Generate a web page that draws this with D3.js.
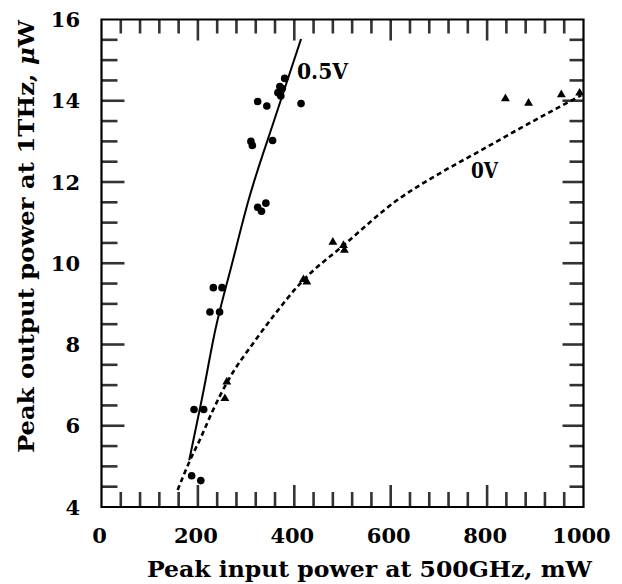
<!DOCTYPE html>
<html>
<head>
<meta charset="utf-8">
<script src="https://cdn.jsdelivr.net/npm/d3@7"></script>
<style>
  html, body { margin: 0; padding: 0; background: #fff; }
  svg { display: block; }
  text { font-family: "DejaVu Serif", serif; font-weight: bold; fill: #000; }
</style>
</head>
<body>
<script>
// ---- data ----
const xMajorTicks = [0, 200, 400, 600, 800, 1000];
const yMajorTicks = [4, 6, 8, 10, 12, 14, 16];
const xMinorTicks = [40, 80, 120, 160, 200, 240, 280, 320, 360, 400, 440, 480, 520, 560, 600, 640, 680, 720, 760, 800, 840, 880, 920, 960];
const yMinorTicks = [4.5, 5, 5.5, 6, 6.5, 7, 7.5, 8, 8.5, 9, 9.5, 10, 10.5, 11, 11.5, 12, 12.5, 13, 13.5, 14, 14.5, 15, 15.5];

// 0.5 V bias: measured points (filled circles)
const dots05X = [187, 206, 192, 212, 225, 245, 232, 250, 324, 332, 341, 310, 313, 355, 324, 343, 414, 366, 370, 375, 380, 372];
const dots05Y = [4.77, 4.65, 6.4, 6.4, 8.8, 8.8, 9.4, 9.4, 11.38, 11.28, 11.48, 13.0, 12.9, 13.02, 13.98, 13.87, 13.93, 14.2, 14.35, 14.3, 14.55, 14.12];
// 0.5 V fitted curve (solid)
const fit05X = [182, 209, 236, 270, 305, 360, 414];
const fit05Y = [5.15, 6.7, 8.35, 9.95, 11.55, 13.58, 15.52];

// 0 V bias: measured points (filled triangles)
const tri0X = [256, 260, 419, 426, 480, 502, 504, 838, 886, 954, 992];
const tri0Y = [6.67, 7.08, 9.6, 9.54, 10.52, 10.44, 10.32, 14.05, 13.94, 14.15, 14.19];
// 0 V fitted curve (dashed)
const fit0X = [158, 184, 205, 230, 263, 319, 360, 412, 506, 613, 700, 786, 870, 955, 995];
const fit0Y = [4.42, 5.16, 5.68, 6.35, 7.12, 8.1, 8.75, 9.5, 10.48, 11.55, 12.2, 12.77, 13.33, 13.88, 14.13];

const xLabel = "Peak input power at 500GHz, mW";
const yLabelA = "Peak output power at 1THz, ";
const yLabelMu = "\u03BC";
const yLabelB = "W";
const label05 = "0.5V";
const label0 = "0V";

// ---- layout ----
const W = 622, H = 584;
const PL = 101.5, PR = 583.5, PT = 19.5, PB = 507;

const svg = d3.select("body").append("svg").attr("width", W).attr("height", H)
  .attr("viewBox", `0 0 ${W} ${H}`);

const xs = d3.scaleLinear().domain([0, 1000]).range([PL, PR]);
const ys = d3.scaleLinear().domain([4, 16]).range([PB, PT]);

const MINOR = 15, MAJOR = 22;
const TICK_COLOR = "#333";
const xLen = v => (v % 200 === 0 ? MAJOR : MINOR);
const yLen = v => (v % 2 === 0 ? MAJOR : MINOR);

// tick marks, inward on all four sides
const ticks = svg.append("g").attr("class", "tickmarks");
ticks.selectAll(".tb").data(xMinorTicks).enter().append("line").attr("class", "tb")
  .attr("x1", d => xs(d)).attr("x2", d => xs(d))
  .attr("y1", PB).attr("y2", d => PB - xLen(d))
  .style("stroke", TICK_COLOR).style("stroke-width", "2.6px");
ticks.selectAll(".tt").data(xMinorTicks).enter().append("line").attr("class", "tt")
  .attr("x1", d => xs(d)).attr("x2", d => xs(d))
  .attr("y1", PT).attr("y2", d => PT + xLen(d) - 1)
  .style("stroke", TICK_COLOR).style("stroke-width", "2.6px");
ticks.selectAll(".tl").data(yMinorTicks).enter().append("line").attr("class", "tl")
  .attr("y1", d => ys(d)).attr("y2", d => ys(d))
  .attr("x1", PL).attr("x2", d => PL + yLen(d) + 1)
  .style("stroke", TICK_COLOR).style("stroke-width", "2.6px");
ticks.selectAll(".tr").data(yMinorTicks).enter().append("line").attr("class", "tr")
  .attr("y1", d => ys(d)).attr("y2", d => ys(d))
  .attr("x1", PR).attr("x2", d => PR - yLen(d) + 1)
  .style("stroke", TICK_COLOR).style("stroke-width", "2.6px");

// frame
svg.append("path")
  .attr("d", `M${PL},${PT}H${PR}V${PB}H${PL}Z`)
  .style("fill", "none").style("stroke", "#000").style("stroke-width", "2.2px");

// tick labels
svg.append("g").selectAll("text").data(xMajorTicks).join("text")
  .attr("x", d => xs(d) - 2).attr("y", 543).attr("text-anchor", "middle")
  .attr("font-size", 21).text(d => d3.format("d")(d));
svg.append("g").selectAll("text").data(yMajorTicks).join("text")
  .attr("x", 80).attr("y", d => ys(d)).attr("dy", "0.36em").attr("text-anchor", "end")
  .attr("font-size", 21).text(d => d3.format("d")(d));

// curves
const line = d3.line().x(d => xs(d[0])).y(d => ys(d[1])).curve(d3.curveMonotoneX);
svg.append("path").datum(d3.zip(fit05X, fit05Y))
  .attr("d", line).attr("fill", "none").attr("stroke", "#000").attr("stroke-width", 2);
svg.append("path").datum(d3.zip(fit0X, fit0Y))
  .attr("d", line).attr("fill", "none").attr("stroke", "#000").attr("stroke-width", 2.6)
  .attr("stroke-dasharray", "5,3.5");

// markers
svg.append("g").selectAll("circle").data(d3.zip(dots05X, dots05Y)).join("circle")
  .attr("cx", d => xs(d[0])).attr("cy", d => ys(d[1])).attr("r", 3.8).attr("fill", "#000");
const tri = d3.symbol().type(d3.symbolTriangle).size(34);
svg.append("g").selectAll("path").data(d3.zip(tri0X, tri0Y)).join("path")
  .attr("transform", d => `translate(${xs(d[0])},${ys(d[1])})`).attr("d", tri).attr("fill", "#000");

// curve labels
svg.append("text").attr("x", 297).attr("y", 79).attr("font-size", 22).attr("textLength", 51).attr("lengthAdjust", "spacingAndGlyphs").text(label05);
svg.append("text").attr("x", 471).attr("y", 178).attr("font-size", 22).attr("textLength", 27).attr("lengthAdjust", "spacingAndGlyphs").text(label0);

// axis titles
svg.append("text").attr("x", 147).attr("y", 577)
  .attr("font-size", 22).attr("textLength", 445).attr("lengthAdjust", "spacingAndGlyphs").text(xLabel);

const yt = svg.append("text").attr("transform", "translate(34,453) rotate(-90)")
  .attr("font-size", 22).attr("textLength", 433).attr("lengthAdjust", "spacingAndGlyphs");
yt.append("tspan").text(yLabelA);
yt.append("tspan").attr("font-style", "italic").text(yLabelMu);
yt.append("tspan").text(yLabelB);
</script>
</body>
</html>
